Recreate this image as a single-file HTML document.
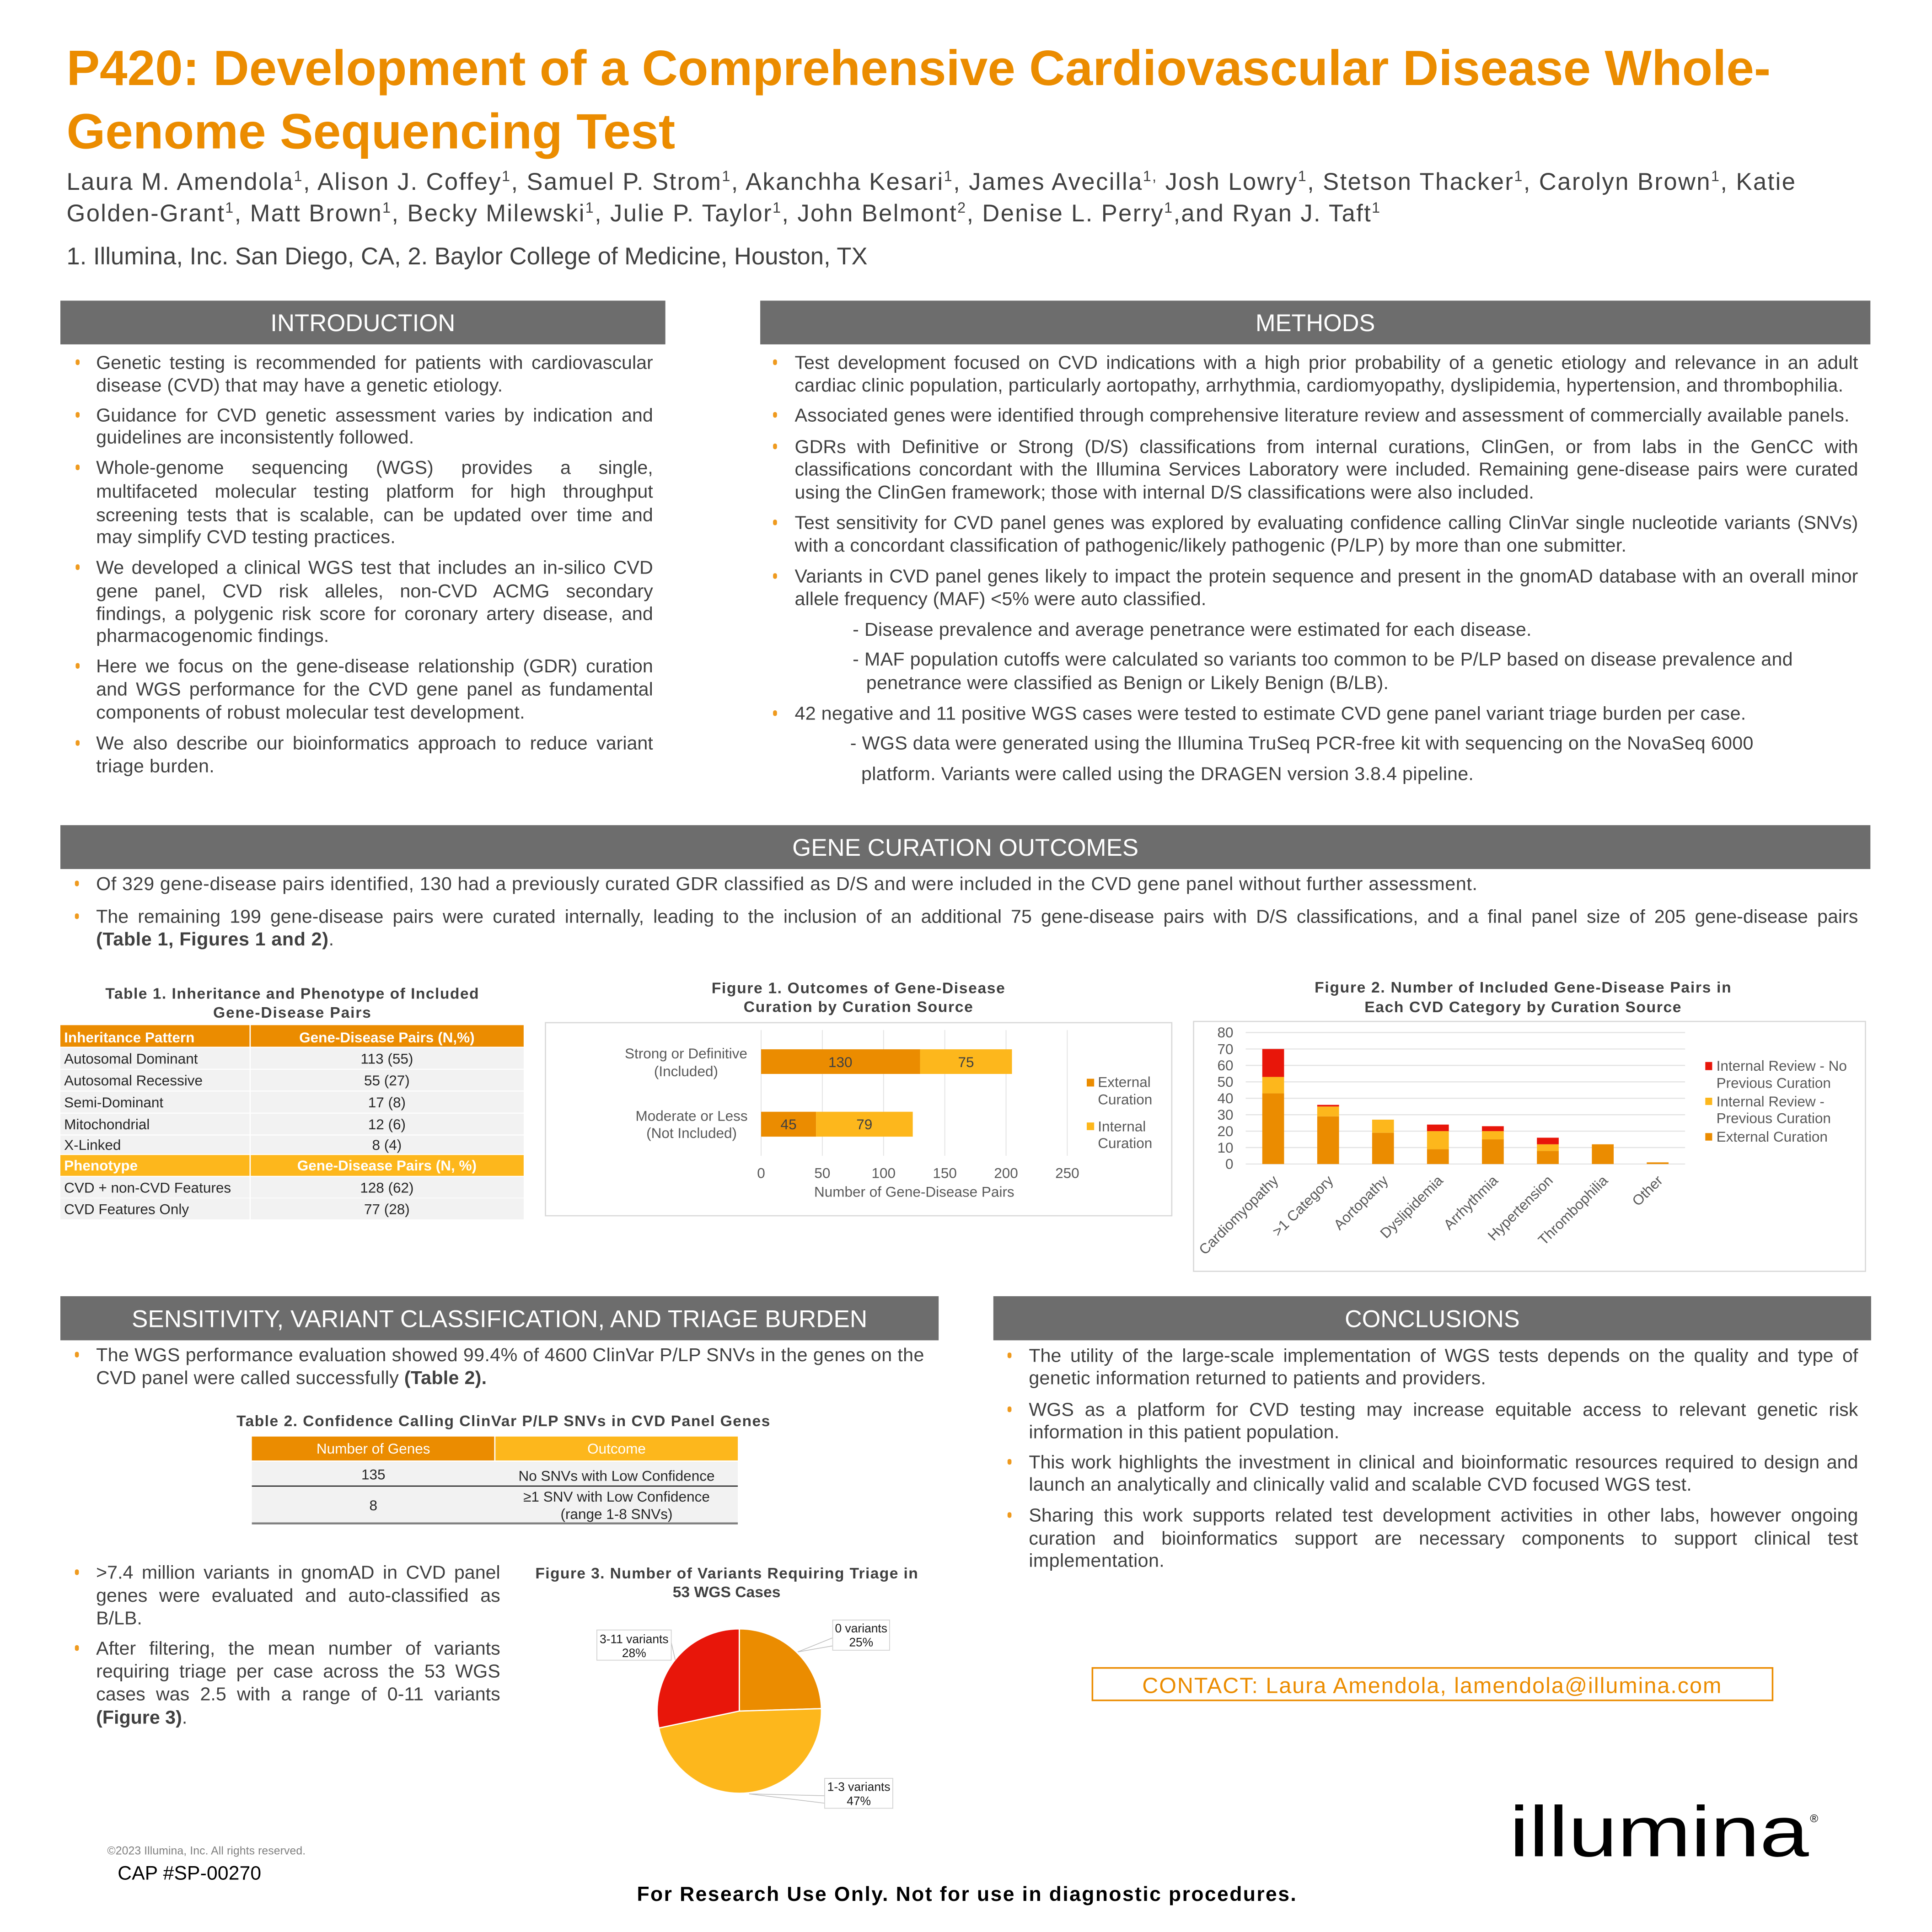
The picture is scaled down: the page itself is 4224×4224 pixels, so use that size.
<!DOCTYPE html>
<html><head><meta charset="utf-8">
<style>
html,body{margin:0;padding:0;background:#fff;width:4224px;height:4224px;overflow:hidden}
svg{display:block}
text{font-family:"Liberation Sans",Arial,sans-serif}
.b{font-size:15.3px;fill:#404040}
.h{font-size:19.5px;fill:#fff}
.ft{font-size:12.5px;font-weight:bold;fill:#404040}
.c{font-size:11.7px;fill:#595959}
.tb{font-size:11.7px;fill:#262626}
.bu{fill:#EF9A1E}
.hb{fill:#6D6D6D}
</style></head><body>
<svg width="4224" height="4224" viewBox="0 0 1568 1568" xmlns="http://www.w3.org/2000/svg">
<rect x="0" y="0" width="1568" height="1568" fill="#fff"/>

<!-- Title -->
<text x="54" y="69" font-size="40.4" font-weight="bold" fill="#EB8C00" textLength="1383" lengthAdjust="spacingAndGlyphs">P420: Development of a Comprehensive Cardiovascular Disease Whole-</text>
<text x="54" y="120.5" font-size="40.4" font-weight="bold" fill="#EB8C00" textLength="494" lengthAdjust="spacingAndGlyphs">Genome Sequencing Test</text>

<!-- Authors -->
<text x="54" y="154" font-size="19.5" fill="#404040" textLength="1403" lengthAdjust="spacing">Laura M. Amendola<tspan dy="-7" font-size="12">1</tspan><tspan dy="7">, Alison J. Coffey</tspan><tspan dy="-7" font-size="12">1</tspan><tspan dy="7">, Samuel P. Strom</tspan><tspan dy="-7" font-size="12">1</tspan><tspan dy="7">, Akanchha Kesari</tspan><tspan dy="-7" font-size="12">1</tspan><tspan dy="7">, James Avecilla</tspan><tspan dy="-7" font-size="12">1,</tspan><tspan dy="7"> Josh Lowry</tspan><tspan dy="-7" font-size="12">1</tspan><tspan dy="7">, Stetson Thacker</tspan><tspan dy="-7" font-size="12">1</tspan><tspan dy="7">, Carolyn Brown</tspan><tspan dy="-7" font-size="12">1</tspan><tspan dy="7">, Katie</tspan></text>
<text x="54" y="179.6" font-size="19.5" fill="#404040" textLength="1066" lengthAdjust="spacing">Golden-Grant<tspan dy="-7" font-size="12">1</tspan><tspan dy="7">, Matt Brown</tspan><tspan dy="-7" font-size="12">1</tspan><tspan dy="7">, Becky Milewski</tspan><tspan dy="-7" font-size="12">1</tspan><tspan dy="7">, Julie P. Taylor</tspan><tspan dy="-7" font-size="12">1</tspan><tspan dy="7">, John Belmont</tspan><tspan dy="-7" font-size="12">2</tspan><tspan dy="7">, Denise L. Perry</tspan><tspan dy="-7" font-size="12">1</tspan><tspan dy="7">,and Ryan J. Taft</tspan><tspan dy="-7" font-size="12">1</tspan></text>
<text x="54" y="214.6" font-size="19.5" fill="#404040" textLength="650" lengthAdjust="spacing">1. Illumina, Inc. San Diego, CA, 2. Baylor College of Medicine, Houston, TX</text>

<!-- Section headers -->
<rect class="hb" x="49" y="244" width="491" height="35.5"/>
<text class="h" x="294.5" y="268.8" text-anchor="middle" textLength="150" lengthAdjust="spacingAndGlyphs">INTRODUCTION</text>
<rect class="hb" x="617" y="244" width="901" height="35.5"/>
<text class="h" x="1067.5" y="268.8" text-anchor="middle" textLength="97" lengthAdjust="spacingAndGlyphs">METHODS</text>

<!-- Intro bullets -->
<rect class="bu" x="61.4" y="291.7" width="3.2" height="4.6" rx="1.5"/>
<rect class="bu" x="61.4" y="334.4" width="3.2" height="4.6" rx="1.5"/>
<rect class="bu" x="61.4" y="377" width="3.2" height="4.6" rx="1.5"/>
<rect class="bu" x="61.4" y="458" width="3.2" height="4.6" rx="1.5"/>
<rect class="bu" x="61.4" y="538.1" width="3.2" height="4.6" rx="1.5"/>
<rect class="bu" x="61.4" y="600.7" width="3.2" height="4.6" rx="1.5"/>

<text class="b j" x="78" y="299.3" textLength="452" lengthAdjust="spacing">Genetic testing is recommended for patients with cardiovascular</text>
<text class="b" x="78" y="317.7" textLength="330" lengthAdjust="spacing">disease (CVD) that may have a genetic etiology.</text>
<text class="b j" x="78" y="342" textLength="452" lengthAdjust="spacing">Guidance for CVD genetic assessment varies by indication and</text>
<text class="b" x="78" y="359.9" textLength="258" lengthAdjust="spacing">guidelines are inconsistently followed.</text>
<text class="b j" x="78" y="384.6" textLength="452" lengthAdjust="spacing">Whole-genome sequencing (WGS) provides a single,</text>
<text class="b j" x="78" y="403.8" textLength="452" lengthAdjust="spacing">multifaceted molecular testing platform for high throughput</text>
<text class="b j" x="78" y="423" textLength="452" lengthAdjust="spacing">screening tests that is scalable, can be updated over time and</text>
<text class="b" x="78" y="440.9" textLength="243" lengthAdjust="spacing">may simplify CVD testing practices.</text>
<text class="b j" x="78" y="465.6" textLength="452" lengthAdjust="spacing">We developed a clinical WGS test that includes an in-silico CVD</text>
<text class="b j" x="78" y="484.8" textLength="452" lengthAdjust="spacing">gene panel, CVD risk alleles, non-CVD ACMG secondary</text>
<text class="b j" x="78" y="503.1" textLength="452" lengthAdjust="spacing">findings, a polygenic risk score for coronary artery disease, and</text>
<text class="b" x="78" y="521" textLength="189" lengthAdjust="spacing">pharmacogenomic findings.</text>
<text class="b j" x="78" y="545.7" textLength="452" lengthAdjust="spacing">Here we focus on the gene-disease relationship (GDR) curation</text>
<text class="b j" x="78" y="564.5" textLength="452" lengthAdjust="spacing">and WGS performance for the CVD gene panel as fundamental</text>
<text class="b" x="78" y="583.2" textLength="348" lengthAdjust="spacing">components of robust molecular test development.</text>
<text class="b j" x="78" y="608.3" textLength="452" lengthAdjust="spacing">We also describe our bioinformatics approach to reduce variant</text>
<text class="b" x="78" y="626.7" textLength="96" lengthAdjust="spacing">triage burden.</text>

<!-- Methods bullets -->
<rect class="bu" x="627.4" y="291.7" width="3.2" height="4.6" rx="1.5"/>
<rect class="bu" x="627.4" y="334.4" width="3.2" height="4.6" rx="1.5"/>
<rect class="bu" x="627.4" y="360" width="3.2" height="4.6" rx="1.5"/>
<rect class="bu" x="627.4" y="421.7" width="3.2" height="4.6" rx="1.5"/>
<rect class="bu" x="627.4" y="465.2" width="3.2" height="4.6" rx="1.5"/>
<rect class="bu" x="627.4" y="576.5" width="3.2" height="4.6" rx="1.5"/>

<text class="b j" x="645" y="299.3" textLength="863" lengthAdjust="spacing">Test development focused on CVD indications with a high prior probability of a genetic etiology and relevance in an adult</text>
<text class="b" x="645" y="317.7" textLength="851" lengthAdjust="spacing">cardiac clinic population, particularly aortopathy, arrhythmia, cardiomyopathy, dyslipidemia, hypertension, and thrombophilia.</text>
<text class="b" x="645" y="342" textLength="856" lengthAdjust="spacing">Associated genes were identified through comprehensive literature review and assessment of commercially available panels.</text>
<text class="b j" x="645" y="367.6" textLength="863" lengthAdjust="spacing">GDRs with Definitive or Strong (D/S) classifications from internal curations, ClinGen, or from labs in the GenCC with</text>
<text class="b j" x="645" y="385.9" textLength="863" lengthAdjust="spacing">classifications concordant with the Illumina Services Laboratory were included. Remaining gene-disease pairs were curated</text>
<text class="b" x="645" y="404.6" textLength="600" lengthAdjust="spacing">using the ClinGen framework; those with internal D/S classifications were also included.</text>
<text class="b j" x="645" y="429.3" textLength="863" lengthAdjust="spacing">Test sensitivity for CVD panel genes was explored by evaluating confidence calling ClinVar single nucleotide variants (SNVs)</text>
<text class="b" x="645" y="447.7" textLength="675" lengthAdjust="spacing">with a concordant classification of pathogenic/likely pathogenic (P/LP) by more than one submitter.</text>
<text class="b j" x="645" y="472.8" textLength="863" lengthAdjust="spacing">Variants in CVD panel genes likely to impact the protein sequence and present in the gnomAD database with an overall minor</text>
<text class="b" x="645" y="491.2" textLength="334" lengthAdjust="spacing">allele frequency (MAF) &lt;5% were auto classified.</text>
<text class="b" x="692" y="515.9" textLength="551" lengthAdjust="spacing">- Disease prevalence and average penetrance were estimated for each disease.</text>
<text class="b" x="692" y="540.2" textLength="763" lengthAdjust="spacing">- MAF population cutoffs were calculated so variants too common to be P/LP based on disease prevalence and</text>
<text class="b" x="703" y="559.3" textLength="424" lengthAdjust="spacing">penetrance were classified as Benign or Likely Benign (B/LB).</text>
<text class="b" x="645" y="584.1" textLength="772" lengthAdjust="spacing">42 negative and 11 positive WGS cases were tested to estimate CVD gene panel variant triage burden per case.</text>
<text class="b" x="690" y="608.3" textLength="733" lengthAdjust="spacing">- WGS data were generated using the Illumina TruSeq PCR-free kit with sequencing on the NovaSeq 6000</text>
<text class="b" x="699" y="633.1" textLength="497" lengthAdjust="spacing">platform. Variants were called using the DRAGEN version 3.8.4 pipeline.</text>

<!-- Gene curation outcomes -->
<rect class="hb" x="49" y="669.7" width="1469" height="35.6"/>
<text class="h" x="783.5" y="694.5" text-anchor="middle" textLength="281" lengthAdjust="spacingAndGlyphs">GENE CURATION OUTCOMES</text>
<rect class="bu" x="60.8" y="714.7" width="3.2" height="4.6" rx="1.5"/>
<rect class="bu" x="60.8" y="741.3" width="3.2" height="4.6" rx="1.5"/>
<text class="b" x="78" y="722.3" textLength="1121" lengthAdjust="spacing">Of 329 gene-disease pairs identified, 130 had a previously curated GDR classified as D/S and were included in the CVD gene panel without further assessment.</text>
<text class="b j" x="78" y="748.9" textLength="1430" lengthAdjust="spacing">The remaining 199 gene-disease pairs were curated internally, leading to the inclusion of an additional 75 gene-disease pairs with D/S classifications, and a final panel size of 205 gene-disease pairs</text>
<text class="b" x="78" y="767.3" textLength="193" lengthAdjust="spacing"><tspan font-weight="bold">(Table 1, Figures 1 and 2)</tspan>.</text>

<!-- Table 1 -->
<text class="ft" x="237" y="810.5" text-anchor="middle" textLength="303" lengthAdjust="spacing">Table 1. Inheritance and Phenotype of Included</text>
<text class="ft" x="237" y="826" text-anchor="middle" textLength="128" lengthAdjust="spacing">Gene-Disease Pairs</text>
<rect x="49" y="832" width="153.5" height="17.5" fill="#EB8C00"/>
<rect x="203.5" y="832" width="221.5" height="17.5" fill="#EB8C00"/>
<text x="52" y="845.9" font-size="11.7" font-weight="bold" fill="#fff">Inheritance Pattern</text>
<text x="314" y="845.9" font-size="11.7" font-weight="bold" fill="#fff" text-anchor="middle">Gene-Disease Pairs (N,%)</text>
<g fill="#F2F2F2">
<rect x="49" y="850.5" width="153.5" height="16.9"/><rect x="203.5" y="850.5" width="221.5" height="16.9"/>
<rect x="49" y="868.2" width="153.5" height="16.9"/><rect x="203.5" y="868.2" width="221.5" height="16.9"/>
<rect x="49" y="885.9" width="153.5" height="17.1"/><rect x="203.5" y="885.9" width="221.5" height="17.1"/>
<rect x="49" y="903.8" width="153.5" height="16.9"/><rect x="203.5" y="903.8" width="221.5" height="16.9"/>
<rect x="49" y="921.6" width="153.5" height="15"/><rect x="203.5" y="921.6" width="221.5" height="15"/>
<rect x="49" y="955.2" width="153.5" height="16.9"/><rect x="203.5" y="955.2" width="221.5" height="16.9"/>
<rect x="49" y="972.6" width="153.5" height="17"/><rect x="203.5" y="972.6" width="221.5" height="17"/>
</g>
<rect x="49" y="937.4" width="153.5" height="16.9" fill="#FDB71C"/>
<rect x="203.5" y="937.4" width="221.5" height="16.9" fill="#FDB71C"/>
<text class="tb" x="52" y="863.2">Autosomal Dominant</text><text class="tb" x="314" y="863.2" text-anchor="middle">113 (55)</text>
<text class="tb" x="52" y="880.9">Autosomal Recessive</text><text class="tb" x="314" y="880.9" text-anchor="middle">55 (27)</text>
<text class="tb" x="52" y="898.7">Semi-Dominant</text><text class="tb" x="314" y="898.7" text-anchor="middle">17 (8)</text>
<text class="tb" x="52" y="916.5">Mitochondrial</text><text class="tb" x="314" y="916.5" text-anchor="middle">12 (6)</text>
<text class="tb" x="52" y="933.3">X-Linked</text><text class="tb" x="314" y="933.3" text-anchor="middle">8 (4)</text>
<text x="52" y="950" font-size="11.7" font-weight="bold" fill="#fff">Phenotype</text>
<text x="314" y="950" font-size="11.7" font-weight="bold" fill="#fff" text-anchor="middle">Gene-Disease Pairs (N, %)</text>
<text class="tb" x="52" y="967.9">CVD + non-CVD Features</text><text class="tb" x="314" y="967.9" text-anchor="middle">128 (62)</text>
<text class="tb" x="52" y="985.3">CVD Features Only</text><text class="tb" x="314" y="985.3" text-anchor="middle">77 (28)</text>

<!-- Figure 1 -->
<text class="ft" x="696.5" y="806.1" text-anchor="middle" textLength="238" lengthAdjust="spacing">Figure 1. Outcomes of Gene-Disease</text>
<text class="ft" x="696.5" y="821.3" text-anchor="middle" textLength="186" lengthAdjust="spacing">Curation by Curation Source</text>
<rect x="442.7" y="830" width="508.3" height="156.7" fill="#fff" stroke="#D9D9D9" stroke-width="1"/>
<g stroke="#E3E3E3" stroke-width="0.7">
<line x1="617.7" y1="836" x2="617.7" y2="938"/><line x1="667.4" y1="836" x2="667.4" y2="938"/>
<line x1="717.1" y1="836" x2="717.1" y2="938"/><line x1="766.8" y1="836" x2="766.8" y2="938"/>
<line x1="816.5" y1="836" x2="816.5" y2="938"/><line x1="866.2" y1="836" x2="866.2" y2="938"/>
</g>
<rect x="617.7" y="851.6" width="129" height="20" fill="#EB8C00"/>
<rect x="746.7" y="851.6" width="74.6" height="20" fill="#FDB71C"/>
<rect x="617.7" y="902.3" width="44.6" height="20.2" fill="#EB8C00"/>
<rect x="662.3" y="902.3" width="78.5" height="20.2" fill="#FDB71C"/>
<text class="c" x="682" y="866" text-anchor="middle" style="fill:#404040">130</text>
<text class="c" x="784" y="866" text-anchor="middle" style="fill:#404040">75</text>
<text class="c" x="640" y="916.5" text-anchor="middle" style="fill:#404040">45</text>
<text class="c" x="701.5" y="916.5" text-anchor="middle" style="fill:#404040">79</text>
<text class="c" x="556.8" y="859" text-anchor="middle">Strong or Definitive</text>
<text class="c" x="556.8" y="873.4" text-anchor="middle">(Included)</text>
<text class="c" x="561.3" y="909.6" text-anchor="middle">Moderate or Less</text>
<text class="c" x="561.3" y="923.5" text-anchor="middle">(Not Included)</text>
<text class="c" x="617.7" y="956" text-anchor="middle">0</text>
<text class="c" x="667.4" y="956" text-anchor="middle">50</text>
<text class="c" x="717.1" y="956" text-anchor="middle">100</text>
<text class="c" x="766.8" y="956" text-anchor="middle">150</text>
<text class="c" x="816.5" y="956" text-anchor="middle">200</text>
<text class="c" x="866.2" y="956" text-anchor="middle">250</text>
<text class="c" x="742" y="971.3" text-anchor="middle">Number of Gene-Disease  Pairs</text>
<rect x="882" y="875.5" width="6" height="6.3" fill="#EB8C00"/>
<rect x="882" y="911" width="6" height="6.2" fill="#FDB71C"/>
<text class="c" x="891" y="882.2">External</text>
<text class="c" x="891" y="896.2">Curation</text>
<text class="c" x="891" y="918.2">Internal</text>
<text class="c" x="891" y="931.7">Curation</text>

<!-- Figure 2 -->
<text class="ft" x="1235.9" y="805.5" text-anchor="middle" textLength="338" lengthAdjust="spacing">Figure 2. Number of  Included Gene-Disease Pairs in</text>
<text class="ft" x="1235.9" y="821.5" text-anchor="middle" textLength="257" lengthAdjust="spacing">Each CVD Category by Curation Source</text>
<rect x="968.7" y="829" width="545.3" height="202.8" fill="#fff" stroke="#D9D9D9" stroke-width="1"/>
<g stroke="#E3E3E3" stroke-width="0.9">
<line x1="1011" y1="838.02" x2="1367.6" y2="838.02"/>
<line x1="1011" y1="851.36" x2="1367.6" y2="851.36"/>
<line x1="1011" y1="864.69" x2="1367.6" y2="864.69"/>
<line x1="1011" y1="878.03" x2="1367.6" y2="878.03"/>
<line x1="1011" y1="891.36" x2="1367.6" y2="891.36"/>
<line x1="1011" y1="904.7" x2="1367.6" y2="904.7"/>
<line x1="1011" y1="918.03" x2="1367.6" y2="918.03"/>
<line x1="1011" y1="931.37" x2="1367.6" y2="931.37"/>
<line x1="1011" y1="944.7" x2="1367.6" y2="944.7"/>
</g>
<g text-anchor="end">
<text class="c" x="1001" y="842">80</text>
<text class="c" x="1001" y="855.4">70</text>
<text class="c" x="1001" y="868.7">60</text>
<text class="c" x="1001" y="882">50</text>
<text class="c" x="1001" y="895.4">40</text>
<text class="c" x="1001" y="908.7">30</text>
<text class="c" x="1001" y="922">20</text>
<text class="c" x="1001" y="935.4">10</text>
<text class="c" x="1001" y="948.7">0</text>
</g>
<g>
<rect x="1024.45" y="887.36" width="17.7" height="57.34" fill="#EB8C00"/>
<rect x="1024.45" y="874.03" width="17.7" height="13.33" fill="#FDB71C"/>
<rect x="1024.45" y="851.36" width="17.7" height="22.67" fill="#E8160A"/>

<rect x="1069.05" y="906.03" width="17.7" height="38.67" fill="#EB8C00"/>
<rect x="1069.05" y="898.03" width="17.7" height="8" fill="#FDB71C"/>
<rect x="1069.05" y="896.7" width="17.7" height="1.33" fill="#E8160A"/>

<rect x="1113.6" y="919.36" width="17.7" height="25.34" fill="#EB8C00"/>
<rect x="1113.6" y="908.7" width="17.7" height="10.66" fill="#FDB71C"/>

<rect x="1158.15" y="932.7" width="17.7" height="12" fill="#EB8C00"/>
<rect x="1158.15" y="918.03" width="17.7" height="14.67" fill="#FDB71C"/>
<rect x="1158.15" y="912.7" width="17.7" height="5.33" fill="#E8160A"/>

<rect x="1202.75" y="924.7" width="17.7" height="20" fill="#EB8C00"/>
<rect x="1202.75" y="918.03" width="17.7" height="6.67" fill="#FDB71C"/>
<rect x="1202.75" y="914.03" width="17.7" height="4" fill="#E8160A"/>

<rect x="1247.35" y="934.03" width="17.7" height="10.67" fill="#EB8C00"/>
<rect x="1247.35" y="928.7" width="17.7" height="5.33" fill="#FDB71C"/>
<rect x="1247.35" y="923.36" width="17.7" height="5.34" fill="#E8160A"/>

<rect x="1291.95" y="928.7" width="17.7" height="16" fill="#EB8C00"/>

<rect x="1336.5" y="943.37" width="17.7" height="1.33" fill="#EB8C00"/>
</g>
<g>
<text class="c" text-anchor="end" transform="translate(1035.3,956) rotate(-45)" x="0" y="4">Cardiomyopathy</text>
<text class="c" text-anchor="end" transform="translate(1079.9,956) rotate(-45)" x="0" y="4">&gt;1 Category</text>
<text class="c" text-anchor="end" transform="translate(1124.45,956) rotate(-45)" x="0" y="4">Aortopathy</text>
<text class="c" text-anchor="end" transform="translate(1169,956) rotate(-45)" x="0" y="4">Dyslipidemia</text>
<text class="c" text-anchor="end" transform="translate(1213.6,956) rotate(-45)" x="0" y="4">Arrhythmia</text>
<text class="c" text-anchor="end" transform="translate(1258.2,956) rotate(-45)" x="0" y="4">Hypertension</text>
<text class="c" text-anchor="end" transform="translate(1302.8,956) rotate(-45)" x="0" y="4">Thrombophilia</text>
<text class="c" text-anchor="end" transform="translate(1347.35,956) rotate(-45)" x="0" y="4">Other</text>
</g>
<rect x="1384" y="861.9" width="5.6" height="6.6" fill="#E8160A"/>
<rect x="1384" y="890.9" width="5.6" height="5.9" fill="#FDB71C"/>
<rect x="1384" y="919.6" width="5.6" height="6.1" fill="#EB8C00"/>
<text class="c" x="1393" y="869">Internal Review - No</text>
<text class="c" x="1393" y="883">Previous Curation</text>
<text class="c" x="1393" y="898">Internal Review -</text>
<text class="c" x="1393" y="911.5">Previous Curation</text>
<text class="c" x="1393" y="926.5">External Curation</text>

<!-- Sensitivity -->
<rect class="hb" x="49" y="1052" width="712.8" height="35.8"/>
<text class="h" x="405.4" y="1077" text-anchor="middle" textLength="597" lengthAdjust="spacingAndGlyphs">SENSITIVITY, VARIANT CLASSIFICATION, AND TRIAGE BURDEN</text>
<rect class="bu" x="60.8" y="1097.1" width="3.2" height="4.6" rx="1.5"/>
<text class="b" x="78" y="1104.7" textLength="672" lengthAdjust="spacing">The WGS performance evaluation showed 99.4% of 4600 ClinVar P/LP SNVs in the genes on the</text>
<text class="b" x="78" y="1123.2" textLength="317" lengthAdjust="spacing">CVD panel were called successfully <tspan font-weight="bold">(Table 2).</tspan></text>

<!-- Table 2 -->
<text class="ft" x="408.4" y="1157.4" text-anchor="middle" textLength="433" lengthAdjust="spacing">Table 2. Confidence Calling ClinVar P/LP SNVs in CVD Panel Genes</text>
<rect x="204.4" y="1165.9" width="196.7" height="19.4" fill="#EB8C00"/>
<rect x="402.1" y="1165.9" width="196.7" height="19.4" fill="#FDB71C"/>
<text x="303" y="1179.8" font-size="11.7" fill="#fff" text-anchor="middle">Number of Genes</text>
<text x="500.4" y="1179.8" font-size="11.7" fill="#fff" text-anchor="middle">Outcome</text>
<rect x="204.4" y="1186.3" width="394.4" height="19.7" fill="#F2F2F2"/>
<rect x="204.4" y="1206.4" width="394.4" height="29.3" fill="#F2F2F2"/>
<line x1="204.4" y1="1206.1" x2="598.8" y2="1206.1" stroke="#000" stroke-width="0.8"/>
<line x1="204.4" y1="1236.4" x2="598.8" y2="1236.4" stroke="#7F7F7F" stroke-width="1.6"/>
<text class="tb" x="303" y="1200.7" text-anchor="middle">135</text>
<text class="tb" x="500.4" y="1201.8" text-anchor="middle">No SNVs with Low Confidence</text>
<text class="tb" x="303" y="1225.8" text-anchor="middle">8</text>
<text class="tb" x="500.4" y="1218.6" text-anchor="middle">≥1 SNV with Low Confidence</text>
<text class="tb" x="500.4" y="1232.8" text-anchor="middle">(range 1-8 SNVs)</text>

<!-- Sensitivity lower bullets -->
<rect class="bu" x="60.8" y="1273.7" width="3.2" height="4.6" rx="1.5"/>
<rect class="bu" x="60.8" y="1335.2" width="3.2" height="4.6" rx="1.5"/>
<text class="b j" x="78" y="1281.3" textLength="328" lengthAdjust="spacing">&gt;7.4 million variants in gnomAD in CVD panel</text>
<text class="b j" x="78" y="1300" textLength="328" lengthAdjust="spacing">genes were evaluated and auto-classified as</text>
<text class="b" x="78" y="1318.4">B/LB.</text>
<text class="b j" x="78" y="1342.8" textLength="328" lengthAdjust="spacing">After filtering, the mean number of variants</text>
<text class="b j" x="78" y="1361.5" textLength="328" lengthAdjust="spacing">requiring triage per case across the 53 WGS</text>
<text class="b j" x="78" y="1380" textLength="328" lengthAdjust="spacing">cases was 2.5 with a range of 0-11 variants</text>
<text class="b" x="78" y="1398.9"><tspan font-weight="bold">(Figure 3)</tspan>.</text>

<!-- Figure 3 -->
<text class="ft" x="589.7" y="1281" text-anchor="middle" textLength="310.5" lengthAdjust="spacing">Figure 3. Number of Variants Requiring Triage in</text>
<text class="ft" x="589.7" y="1296.3" text-anchor="middle">53 WGS Cases</text>
<g stroke="#fff" stroke-width="1">
<path d="M600,1388.7 L600,1322 A66.7,66.7 0 0 1 666.67,1386.7 Z" fill="#EB8C00"/>
<path d="M600,1388.7 L666.67,1386.7 A66.7,66.7 0 0 1 534.73,1402.45 Z" fill="#FDB71C"/>
<path d="M600,1388.7 L534.73,1402.45 A66.7,66.7 0 0 1 600,1322 Z" fill="#E8160A"/>
</g>
<g stroke="#BFBFBF" stroke-width="0.6" fill="none">
<polyline points="675.8,1329.2 647.5,1340.7 675.8,1335.8"/>
<polyline points="544.8,1333 548,1347.1"/>
<polyline points="669.4,1457.4 608,1455.9 669.4,1463.5"/>
</g>
<g fill="#fff" stroke="#D4D4D4" stroke-width="0.7">
<rect x="675.8" y="1314.8" width="46.2" height="24.5"/>
<rect x="484.4" y="1322.9" width="60.4" height="24.5"/>
<rect x="669.3" y="1443.3" width="55.3" height="24.3"/>
</g>
<g text-anchor="middle">
<text x="698.9" y="1324.8" font-size="9.8" fill="#1a1a1a">0 variants</text>
<text x="698.9" y="1336.1" font-size="9.8" fill="#1a1a1a">25%</text>
<text x="514.6" y="1333.5" font-size="9.8" fill="#1a1a1a">3-11 variants</text>
<text x="514.6" y="1344.9" font-size="9.8" fill="#1a1a1a">28%</text>
<text x="697" y="1453.5" font-size="9.8" fill="#1a1a1a">1-3 variants</text>
<text x="697" y="1465" font-size="9.8" fill="#1a1a1a">47%</text>
</g>

<!-- Conclusions -->
<rect class="hb" x="806.2" y="1052" width="712.4" height="35.8"/>
<text class="h" x="1162.4" y="1077" text-anchor="middle" textLength="142" lengthAdjust="spacingAndGlyphs">CONCLUSIONS</text>
<rect class="bu" x="817.7" y="1097.7" width="3.2" height="4.6" rx="1.5"/>
<rect class="bu" x="817.7" y="1141.5" width="3.2" height="4.6" rx="1.5"/>
<rect class="bu" x="817.7" y="1184.1" width="3.2" height="4.6" rx="1.5"/>
<rect class="bu" x="817.7" y="1227.3" width="3.2" height="4.6" rx="1.5"/>
<text class="b j" x="835" y="1105.3" textLength="673" lengthAdjust="spacing">The utility of the large-scale implementation of WGS tests depends on the quality and type of</text>
<text class="b" x="835" y="1123.5" textLength="371" lengthAdjust="spacing">genetic information returned to patients and providers.</text>
<text class="b j" x="835" y="1149.1" textLength="673" lengthAdjust="spacing">WGS as a platform for CVD testing may increase equitable access to relevant genetic risk</text>
<text class="b" x="835" y="1167.3" textLength="252" lengthAdjust="spacing">information in this patient population.</text>
<text class="b j" x="835" y="1191.7" textLength="673" lengthAdjust="spacing">This work highlights the investment in clinical and bioinformatic resources required to design and</text>
<text class="b" x="835" y="1209.8" textLength="538" lengthAdjust="spacing">launch an analytically and clinically valid and scalable CVD focused WGS test.</text>
<text class="b j" x="835" y="1234.9" textLength="673" lengthAdjust="spacing">Sharing this work supports related test development activities in other labs, however ongoing</text>
<text class="b j" x="835" y="1253.5" textLength="673" lengthAdjust="spacing">curation and bioinformatics support are necessary components to support clinical test</text>
<text class="b" x="835" y="1271.5" textLength="110" lengthAdjust="spacing">implementation.</text>

<!-- Contact -->
<rect x="886.6" y="1353.7" width="552" height="26.3" fill="#fff" stroke="#EB8C00" stroke-width="1.3"/>
<text x="1162" y="1374" font-size="18" fill="#EB8C00" text-anchor="middle" textLength="470" lengthAdjust="spacing">CONTACT: Laura Amendola, lamendola@illumina.com</text>

<!-- Footer -->
<text x="87" y="1505" font-size="9.2" fill="#808080" textLength="161" lengthAdjust="spacing">©2023 Illumina, Inc. All rights reserved.</text>
<text x="95.5" y="1525.5" font-size="15.8" fill="#000" textLength="116.5" lengthAdjust="spacing">CAP #SP-00270</text>
<text x="784.4" y="1542.7" font-size="16.5" font-weight="bold" fill="#000" text-anchor="middle" textLength="535" lengthAdjust="spacing">For Research Use Only.  Not for use in diagnostic procedures.</text>

<!-- Logo -->
<text x="1225" y="1506.5" font-size="58" fill="#000" textLength="243" lengthAdjust="spacingAndGlyphs">illumina</text>
<text x="1469" y="1479" font-size="9" fill="#000">®</text>
</svg>
<script>
(function(){
  var els=document.querySelectorAll('text.j');
  for(var i=0;i<els.length;i++){
    var t=els[i];
    try{
      var L=parseFloat(t.getAttribute('textLength'));
      t.removeAttribute('textLength');
      var n=t.getComputedTextLength();
      var s=(t.textContent.match(/ /g)||[]).length;
      if(s>0&&n<L){t.setAttribute('word-spacing',((L-n)/s).toFixed(3));}
      t.setAttribute('textLength',L);
    }catch(e){}
  }
})();
</script>
</body></html>
